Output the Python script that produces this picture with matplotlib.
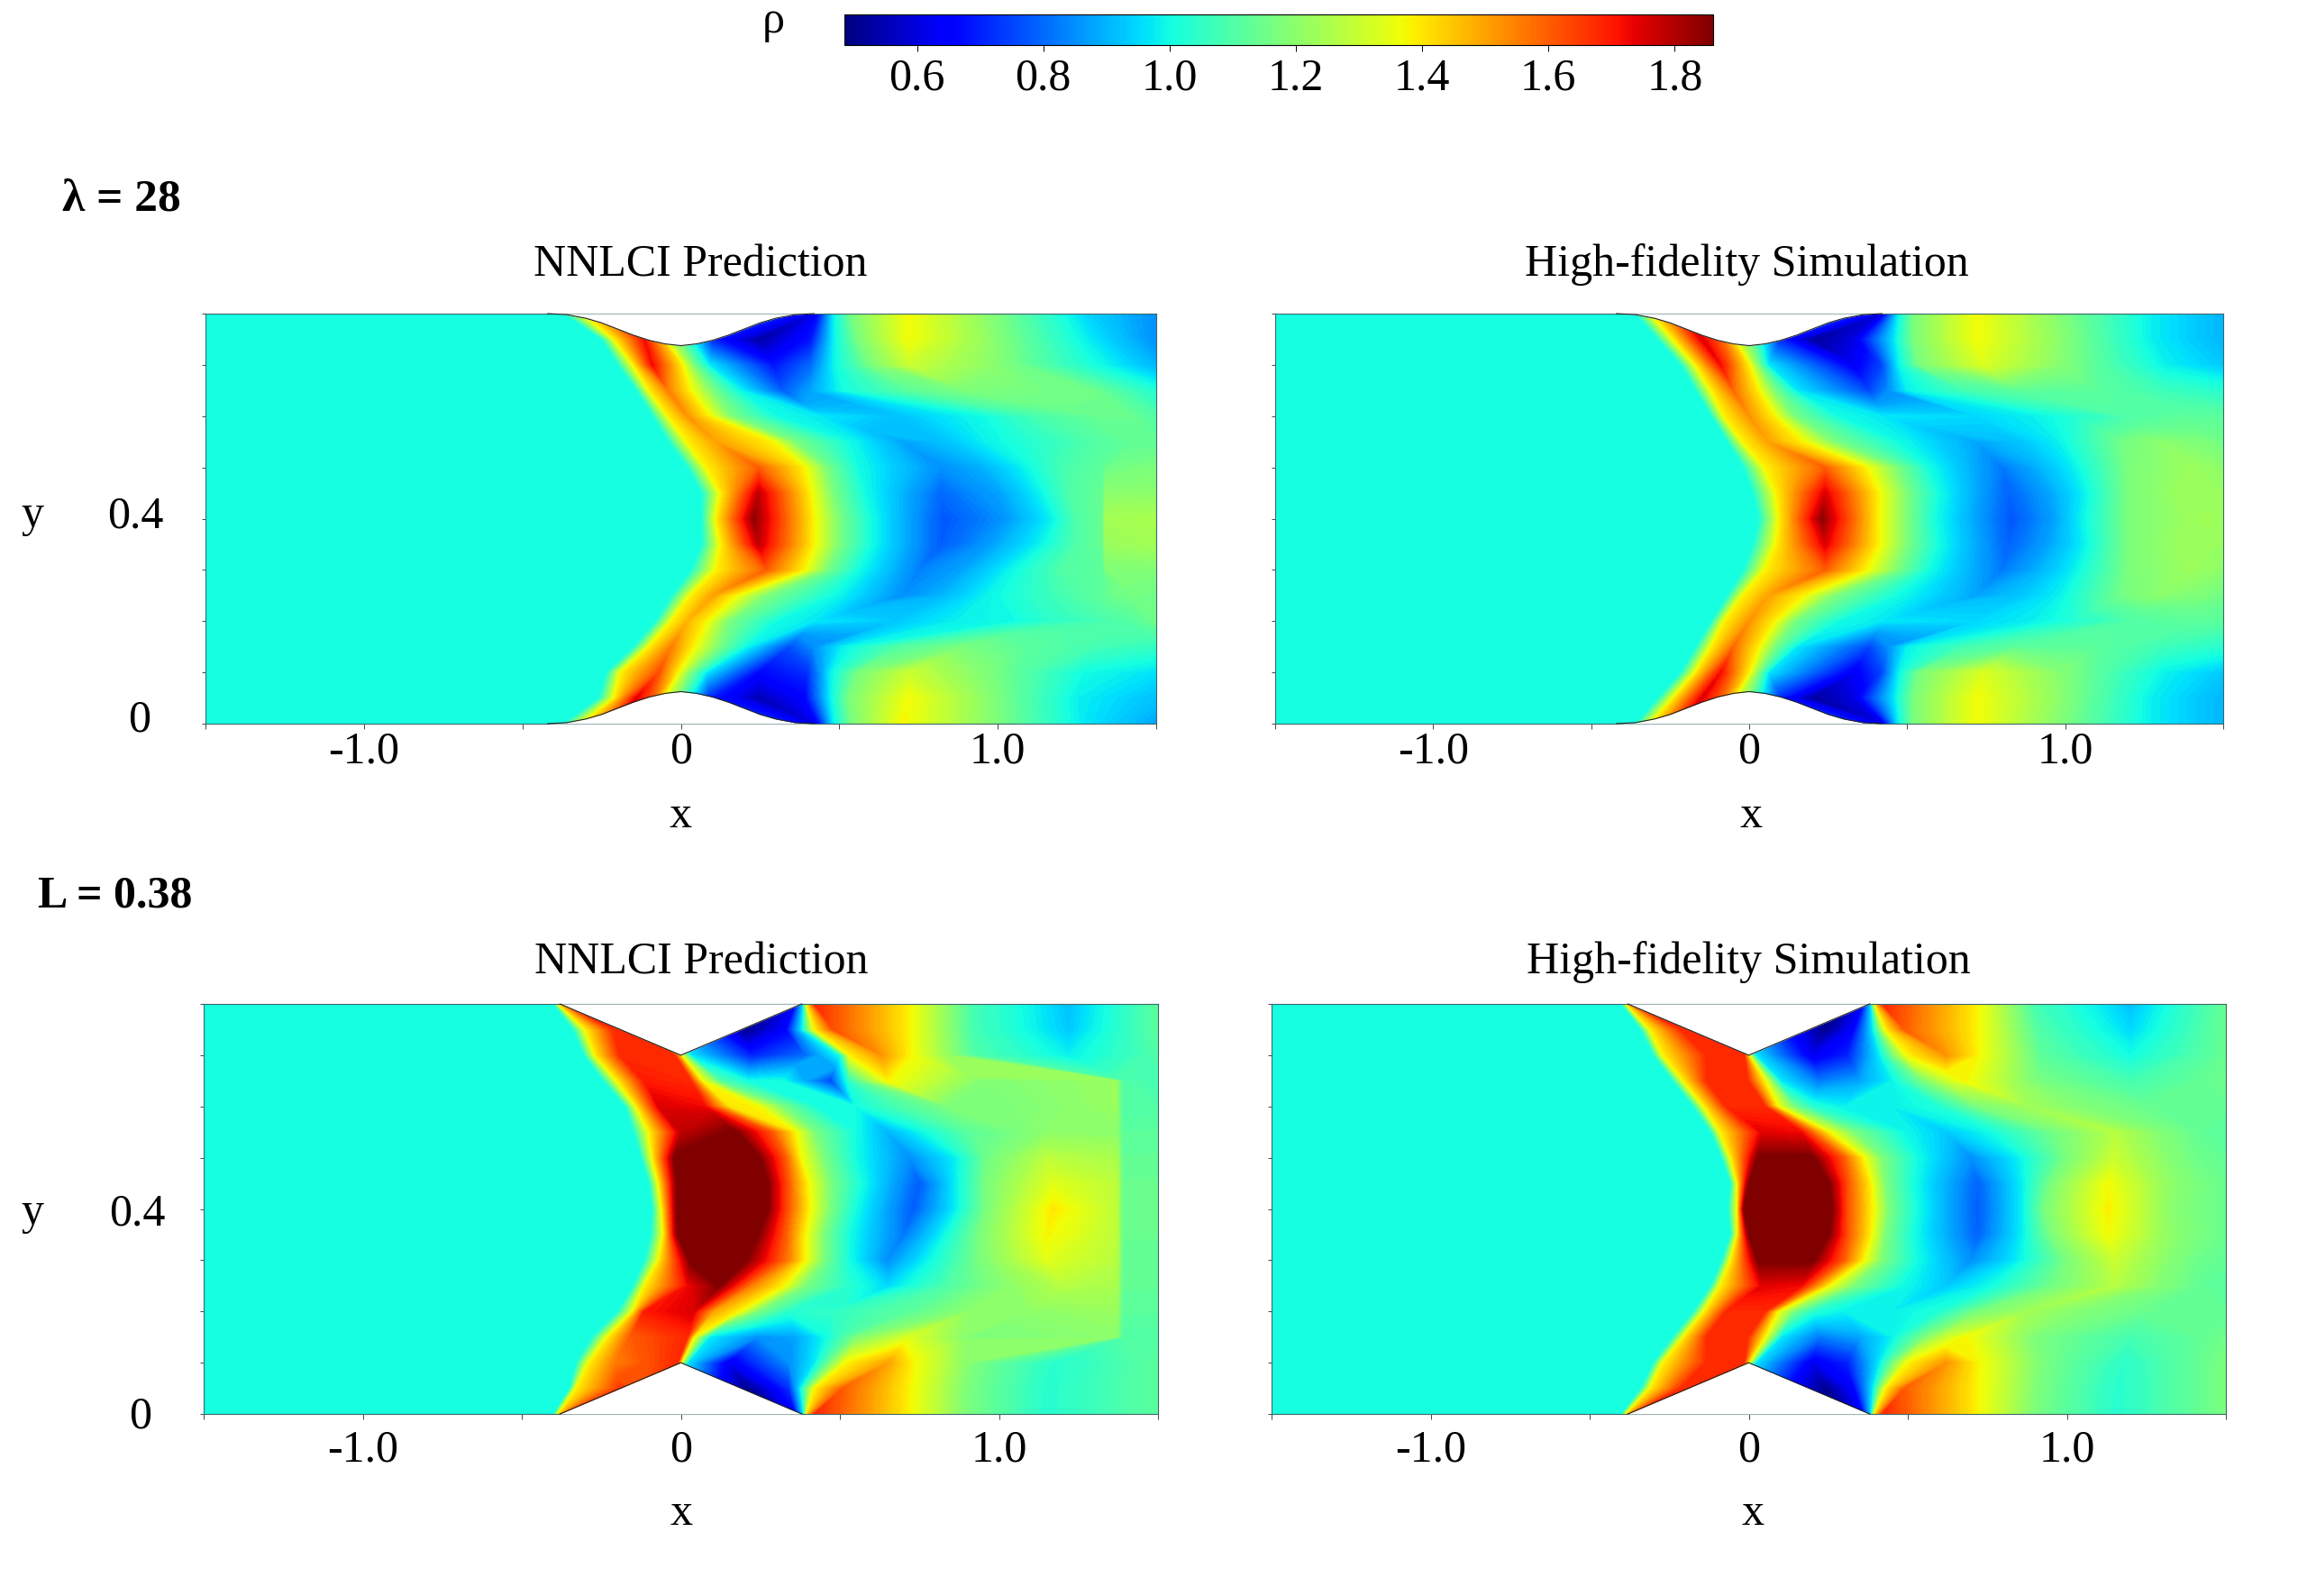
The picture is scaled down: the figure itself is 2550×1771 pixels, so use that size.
import numpy as np
import matplotlib
matplotlib.use('Agg')
import matplotlib.pyplot as plt
from matplotlib.colors import Normalize
from matplotlib.cm import ScalarMappable

plt.rcParams['font.family'] = ['Liberation Serif', 'DejaVu Serif']

W, H = 2550, 1771
RHO_MIN, RHO_MAX = 0.485, 1.861

cbar_ticks = [0.6, 0.8, 1.0, 1.2, 1.4, 1.6, 1.8]

# walls
bump_x = [-0.42, -0.36, -0.3, -0.25, -0.2, -0.15, -0.1, -0.05, 0, 0.05, 0.1, 0.15, 0.2, 0.25, 0.3, 0.36, 0.42]
bump_h = [0, 0.002, 0.009, 0.018, 0.03, 0.042, 0.052, 0.059, 0.0625, 0.059, 0.052, 0.042, 0.03, 0.018, 0.009, 0.002, 0]
wedge_x = [-0.38, 0, 0.38]
wedge_h = [0, 0.1, 0]

# rows of the flow field, x stops and density at the stops (left of the first stop rho is 1.0)
rows_full = [0, 0.05, 0.1, 0.15, 0.2, 0.25, 0.3, 0.35, 0.4, 0.45, 0.5, 0.55, 0.6, 0.65, 0.7, 0.75, 0.8]

# lambda=28, prediction
p1_x = [
    [-.37, -.31, -.22, -.14, -.05, .05, .42, .44, .48, .54, .7, 1.0, 1.27, 1.5],
    [-.26, -.21, -.14, -.09, -.06, .09, .245, .39, .47, .53, .72, .96, 1.25, 1.5],
    [-.235, -.19, -.07, -.01, .03, .08, .245, .4, .47, .56, .72, .96, 1.27, 1.5],
    [-.15, -.1, -.03, .04, .12, .2, .34, .42, .51, .68, .89, 1.08, 1.3, 1.5],
    [-.08, -.03, .02, .08, .15, .3, .42, .68, .87, 1.06, 1.2, 1.32, 1.4, 1.5],
    [-.03, .03, .1, .17, .27, .48, .7, .82, .96, 1.2, 1.32, 1.37, 1.43, 1.5],
    [.03, .11, .27, .39, .46, .56, .75, .89, 1.03, 1.2, 1.31, 1.33, 1.34, 1.5],
    [.065, .125, .245, .42, .5, .6, .82, .96, 1.13, 1.25, 1.31, 1.33, 1.34, 1.5],
    [.065, .11, .23, .42, .5, .6, .83, 1.01, 1.17, 1.25, 1.31, 1.33, 1.34, 1.5],
    [.065, .125, .245, .41, .48, .58, .82, 1.01, 1.13, 1.23, 1.31, 1.33, 1.34, 1.5],
    [.02, .08, .245, .39, .46, .56, .82, .96, 1.08, 1.2, 1.31, 1.33, 1.34, 1.5],
    [-.04, .02, .11, .29, .36, .53, .7, .84, .96, 1.16, 1.3, 1.37, 1.43, 1.5],
    [-.09, -.04, .02, .09, .16, .3, .44, .68, .96, 1.11, 1.25, 1.33, 1.42, 1.5],
    [-.14, -.1, -.04, .03, .1, .18, .32, .41, .51, .72, .9, 1.1, 1.3, 1.5],
    [-.2, -.15, -.09, .005, .04, .09, .29, .41, .48, .6, .72, .98, 1.28, 1.5],
    [-.25, -.21, -.115, -.07, -.04, .1, .245, .41, .48, .56, .72, .98, 1.28, 1.5],
    [-.37, -.31, -.22, -.14, -.05, .05, .42, .44, .48, .54, .72, 1.0, 1.27, 1.5],
]
p1_rho = [
    [1, 1.38, 1.65, 1.5, 1.3, 1.1, .6, .7, .97, 1.17, 1.38, 1.17, .97, .88],
    [1, 1.38, 1.75, 1.6, 1.4, .7, .55, .65, .97, 1.17, 1.37, 1.2, .98, .92],
    [1, 1.38, 1.62, 1.38, 1.17, .97, .66, .72, .97, 1.17, 1.3, 1.18, 1.0, .96],
    [1, 1.38, 1.55, 1.38, 1.17, 1.0, .76, .85, .98, 1.1, 1.17, 1.12, 1.08, 1.05],
    [1, 1.38, 1.47, 1.38, 1.17, 1.0, .97, .93, .98, 1.0, 1.05, 1.08, 1.1, 1.15],
    [1, 1.38, 1.5, 1.38, 1.17, 1.0, .85, .9, .98, 1.08, 1.12, 1.15, 1.16, 1.15],
    [1, 1.38, 1.6, 1.38, 1.17, 1.0, .83, .88, .98, 1.1, 1.12, 1.12, 1.18, 1.18],
    [1, 1.38, 1.78, 1.38, 1.17, 1.0, .78, .86, .98, 1.1, 1.13, 1.13, 1.22, 1.24],
    [1, 1.38, 1.84, 1.38, 1.17, 1.0, .77, .85, .98, 1.1, 1.13, 1.14, 1.24, 1.25],
    [1, 1.38, 1.78, 1.38, 1.17, 1.0, .8, .88, .98, 1.1, 1.13, 1.13, 1.2, 1.2],
    [1, 1.38, 1.6, 1.38, 1.17, 1.0, .85, .9, .98, 1.08, 1.12, 1.12, 1.15, 1.17],
    [1, 1.38, 1.5, 1.38, 1.17, 1.0, .88, .92, .98, 1.05, 1.1, 1.12, 1.13, 1.13],
    [1, 1.38, 1.52, 1.38, 1.17, 1.0, .97, .92, 1.0, 1.08, 1.12, 1.14, 1.14, 1.1],
    [1, 1.38, 1.55, 1.38, 1.17, 1.0, .78, .88, 1.0, 1.12, 1.17, 1.16, 1.15, 1.02],
    [1, 1.38, 1.72, 1.38, 1.17, .97, .68, .8, .98, 1.17, 1.3, 1.2, 1.02, .9],
    [1, 1.38, 1.72, 1.5, 1.3, .7, .53, .68, .97, 1.17, 1.37, 1.2, .98, .85],
    [1, 1.38, 1.6, 1.5, 1.3, 1.1, .6, .7, .97, 1.17, 1.37, 1.17, .95, .85],
]

# lambda=28, simulation: lower half, upper half is the mirror
p2_x = [
    [-.36, -.31, -.22, -.14, -.05, .05, .42, .43, .47, .52, .72, 1.0, 1.27, 1.5],
    [-.29, -.24, -.15, -.09, -.05, .1, .2, .33, .46, .52, .72, .98, 1.27, 1.5],
    [-.217, -.17, -.09, 0, .03, .06, .33, .42, .47, .54, .74, 1.0, 1.32, 1.5],
    [-.17, -.12, -.05, .03, .08, .15, .38, .44, .5, .68, .85, 1.1, 1.3, 1.5],
    [-.12, -.08, 0, .08, .14, .28, .42, .72, .9, 1.02, 1.1, 1.2, 1.35, 1.5],
    [-.07, -.02, .06, .17, .27, .47, .72, .85, .98, 1.17, 1.3, 1.4, 1.45, 1.5],
    [-.02, .05, .24, .37, .47, .57, .8, .92, 1.03, 1.2, 1.38, 1.42, 1.46, 1.5],
    [.01, .085, .24, .41, .5, .6, .82, .95, 1.06, 1.2, 1.35, 1.42, 1.46, 1.5],
    [.03, .095, .23, .41, .5, .59, .83, .96, 1.05, 1.2, 1.38, 1.43, 1.47, 1.5],
]
p2_rho = [
    [1, 1.38, 1.7, 1.5, 1.3, 1.1, .6, .65, .97, 1.17, 1.37, 1.17, .98, .9],
    [1, 1.38, 1.75, 1.6, 1.4, .7, .52, .6, .97, 1.17, 1.37, 1.2, .98, .9],
    [1, 1.38, 1.72, 1.38, 1.17, .97, .63, .75, .97, 1.17, 1.33, 1.18, .98, .93],
    [1, 1.38, 1.58, 1.38, 1.17, .97, .75, .85, .98, 1.08, 1.12, 1.12, 1.07, 1.03],
    [1, 1.38, 1.52, 1.38, 1.17, 1.0, .97, .95, .98, 1.02, 1.05, 1.1, 1.12, 1.12],
    [1, 1.38, 1.5, 1.38, 1.17, 1.0, .88, .92, .98, 1.15, 1.2, 1.18, 1.17, 1.15],
    [1, 1.38, 1.6, 1.38, 1.17, 1.0, .82, .9, .98, 1.17, 1.22, 1.22, 1.21, 1.2],
    [1, 1.38, 1.75, 1.38, 1.17, 1.0, .79, .88, .98, 1.17, 1.22, 1.22, 1.22, 1.22],
    [1, 1.38, 1.84, 1.38, 1.17, 1.0, .77, .87, .98, 1.17, 1.22, 1.23, 1.23, 1.22],
]

# L=0.38, prediction
p3_x = [
    [-.4, -.385, -.36, -.2, -.1, .1, .3, .36, .385, .395, .42, .72, .9, 1.15, 1.5],
    [-.35, -.33, -.19, -.15, -.1, .1, .21, .34, .375, .42, .51, .72, .9, 1.15, 1.5],
    [-.33, -.29, -.21, -.01, 0, .02, .15, .34, .42, .52, .65, .73, .92, 1.18, 1.5],
    [-.28, -.23, -.16, .02, .04, .09, .24, .36, .46, .55, .72, .92, 1.37, 1.39, 1.5],
    [-.2, -.15, -.115, .04, .1, .18, .24, .34, .48, .72, .91, 1.08, 1.37, 1.39, 1.5],
    [-.15, -.115, .02, .12, .22, .32, .39, .53, .65, .84, 1.03, 1.2, 1.37, 1.39, 1.5],
    [-.115, -.07, .03, .2, .34, .39, .45, .53, .65, .79, .94, 1.15, 1.37, 1.39, 1.5],
    [-.095, -.055, -.01, .24, .33, .39, .45, .53, .7, .82, .94, 1.15, 1.37, 1.39, 1.5],
    [-.09, -.06, -.012, .27, .34, .405, .47, .55, .73, .865, .96, 1.17, 1.37, 1.39, 1.5],
    [-.1, -.07, -.012, .27, .34, .4, .47, .57, .75, .865, .96, 1.17, 1.37, 1.39, 1.5],
    [-.125, -.09, -.02, .245, .33, .375, .45, .55, .72, .865, .96, 1.15, 1.37, 1.39, 1.5],
    [-.15, -.1, 0, .17, .29, .36, .42, .55, .65, .77, .91, 1.15, 1.37, 1.39, 1.5],
    [-.175, -.14, -.07, .075, .15, .24, .32, .43, .55, .67, .84, 1.0, 1.37, 1.39, 1.5],
    [-.245, -.2, -.115, .03, .065, .125, .21, .32, .47, .53, .65, .95, 1.37, 1.39, 1.5],
    [-.305, -.27, -.19, -.02, 0, .03, .22, .39, .5, .53, .63, .72, .92, 1.22, 1.5],
    [-.34, -.3, -.21, -.15, -.1, .1, .2, .33, .38, .42, .48, .72, .92, 1.22, 1.5],
    [-.4, -.385, -.36, -.2, -.1, .1, .3, .36, .385, .395, .42, .72, .92, 1.22, 1.5],
]
p3_rho = [
    [1, 1.38, 1.68, 1.6, 1.4, .7, .5, .65, .97, 1.38, 1.68, 1.38, 1.17, 1.03, 1.12],
    [1, 1.38, 1.66, 1.6, 1.4, .7, .5, .72, .97, 1.38, 1.6, 1.38, 1.17, 1.03, 1.12],
    [1, 1.38, 1.55, 1.68, 1.38, .97, .62, .85, .97, 1.38, 1.5, 1.38, 1.17, 1.03, 1.12],
    [1, 1.38, 1.6, 1.68, 1.38, .97, .85, .88, 1.0, 1.17, 1.33, 1.17, 1.2, 1.1, 1.1],
    [1, 1.38, 1.7, 1.75, 1.5, 1.38, 1.17, 1.03, 1.05, 1.12, 1.2, 1.2, 1.22, 1.12, 1.12],
    [1, 1.38, 1.72, 1.86, 1.55, 1.38, 1.17, 1.03, .95, 1.1, 1.2, 1.27, 1.25, 1.13, 1.13],
    [1, 1.38, 1.87, 1.87, 1.55, 1.38, 1.17, 1.0, .85, 1.0, 1.17, 1.34, 1.27, 1.13, 1.13],
    [1, 1.38, 1.87, 1.87, 1.6, 1.38, 1.17, 1.0, .82, .98, 1.17, 1.38, 1.28, 1.14, 1.14],
    [1, 1.38, 1.87, 1.87, 1.6, 1.38, 1.17, 1.0, .78, .98, 1.17, 1.4, 1.28, 1.14, 1.14],
    [1, 1.38, 1.87, 1.87, 1.6, 1.38, 1.17, 1.0, .78, .98, 1.17, 1.34, 1.28, 1.14, 1.14],
    [1, 1.38, 1.87, 1.87, 1.6, 1.38, 1.17, 1.0, .85, .98, 1.15, 1.28, 1.25, 1.13, 1.13],
    [1, 1.38, 1.78, 1.87, 1.6, 1.38, 1.17, 1.0, .9, 1.0, 1.12, 1.2, 1.2, 1.12, 1.12],
    [1, 1.38, 1.75, 1.72, 1.4, 1.38, 1.17, 1.0, 1.0, 1.08, 1.17, 1.17, 1.22, 1.1, 1.1],
    [1, 1.38, 1.7, 1.68, 1.38, 1.1, 1.0, 1.0, .75, 1.05, 1.38, 1.18, 1.22, 1.1, 1.08],
    [1, 1.38, 1.68, 1.68, 1.38, .97, .7, .8, 1.0, 1.38, 1.52, 1.38, 1.1, .98, 1.1],
    [1, 1.38, 1.68, 1.6, 1.4, .7, .5, .65, .97, 1.38, 1.62, 1.38, 1.08, .93, 1.12],
    [1, 1.38, 1.68, 1.6, 1.4, .7, .5, .65, .97, 1.38, 1.68, 1.38, 1.08, .92, 1.12],
]

# L=0.38, simulation: lower rows mirrored for the middle, the top three rows differ on the right
p4_x_low = [
    [-.4, -.385, -.36, -.2, -.1, .1, .3, .36, .385, .395, .42, .72, .9, 1.16, 1.5],
    [-.34, -.31, -.21, -.15, -.1, .1, .24, .33, .39, .43, .49, .72, .91, 1.16, 1.5],
    [-.3, -.27, -.13, -.015, 0, .02, .2, .31, .41, .5, .62, .72, .92, 1.18, 1.5],
    [-.24, -.205, -.13, -.005, .05, .1, .22, .35, .45, .55, .62, .68, .9, 1.2, 1.5],
    [-.175, -.14, -.07, .05, .09, .14, .2, .3, .45, .6, .72, .88, 1.05, 1.25, 1.5],
    [-.12, -.09, .04, .165, .22, .25, .33, .48, .62, .75, .95, 1.15, 1.3, 1.42, 1.5],
    [-.085, -.057, .03, .2, .3, .36, .42, .53, .7, .85, 1.0, 1.15, 1.3, 1.4, 1.5],
    [-.057, -.036, 0, .25, .31, .385, .43, .52, .72, .86, .95, 1.13, 1.3, 1.4, 1.5],
    [-.065, -.036, -.015, .26, .31, .39, .44, .53, .72, .86, .93, 1.13, 1.32, 1.42, 1.5],
]
p4_rho_low = [
    [1, 1.38, 1.68, 1.6, 1.4, .7, .5, .65, .97, 1.38, 1.68, 1.38, 1.17, 1.03, 1.17],
    [1, 1.38, 1.68, 1.6, 1.4, .7, .5, .65, .97, 1.38, 1.6, 1.38, 1.17, 1.03, 1.17],
    [1, 1.38, 1.68, 1.68, 1.38, .97, .62, .7, .97, 1.38, 1.52, 1.38, 1.17, 1.04, 1.17],
    [1, 1.38, 1.68, 1.68, 1.38, .97, .82, .88, .98, 1.17, 1.3, 1.38, 1.17, 1.08, 1.15],
    [1, 1.38, 1.68, 1.68, 1.38, 1.17, 1.03, .98, .98, 1.02, 1.17, 1.23, 1.18, 1.14, 1.13],
    [1, 1.38, 1.74, 1.72, 1.5, 1.38, 1.17, 1.0, .93, .99, 1.15, 1.27, 1.18, 1.13, 1.12],
    [1, 1.38, 1.87, 1.87, 1.6, 1.38, 1.17, 1.0, .85, .98, 1.17, 1.3, 1.2, 1.15, 1.13],
    [1, 1.38, 1.87, 1.87, 1.62, 1.38, 1.17, 1.0, .79, .98, 1.17, 1.37, 1.22, 1.17, 1.14],
    [1, 1.38, 1.87, 1.87, 1.62, 1.38, 1.17, 1.0, .78, .98, 1.17, 1.39, 1.2, 1.16, 1.14],
]
p4_x_top = [
    [-.3, -.27, -.13, -.015, 0, .02, .2, .31, .41, .5, .62, .72, .92, 1.2, 1.5],
    [-.34, -.31, -.21, -.15, -.1, .1, .24, .33, .39, .43, .49, .72, .91, 1.2, 1.5],
    [-.4, -.385, -.36, -.2, -.1, .1, .3, .36, .385, .395, .42, .72, .9, 1.2, 1.5],
]
p4_rho_top = [
    [1, 1.38, 1.68, 1.68, 1.38, .97, .62, .7, .97, 1.38, 1.52, 1.38, 1.12, 1.0, 1.14],
    [1, 1.38, 1.68, 1.6, 1.4, .7, .5, .65, .97, 1.38, 1.6, 1.38, 1.1, .95, 1.14],
    [1, 1.38, 1.68, 1.6, 1.4, .7, .5, .65, .97, 1.38, 1.68, 1.38, 1.08, .92, 1.14],
]


def px_axes(fig, x0, y0, x1, y1):
    return fig.add_axes([x0 / W, 1 - y1 / H, (x1 - x0) / W, (y1 - y0) / H])


def label(fig, x, y, s, size=36, **kw):
    fig.text(x / W, 1 - y / H, s, fontsize=size, ha='center', va='center', **kw)


def draw_panel(fig, box, ys, xs, rhos, wall_x, wall_h, xpad):
    ax = px_axes(fig, *box)
    xs = np.array(xs, dtype=float)
    rhos = np.array(rhos, dtype=float)
    # inlet side is all free stream
    xs = np.column_stack([np.full(len(xs), -1.5), xs])
    rhos = np.column_stack([np.full(len(rhos), 1.0), rhos])
    yy = np.repeat(np.array(ys)[:, None], xs.shape[1], axis=1)
    ax.contourf(xs, yy, rhos, levels=np.linspace(RHO_MIN, RHO_MAX, 140), cmap='jet', extend='both')

    # walls cut out of the channel
    wx = np.array(wall_x)
    wh = np.array(wall_h)
    ax.fill_between(wx, 0, wh, color='white', zorder=3, clip_on=False, lw=0)
    ax.fill_between(wx, 0.8 - wh, 0.8, color='white', zorder=3, clip_on=False, lw=0)
    ax.plot(wx, wh, color='#222222', lw=0.8, zorder=4, clip_on=False)
    ax.plot(wx, 0.8 - wh, color='#222222', lw=0.8, zorder=4, clip_on=False)

    ax.set_xlim(-1.5, 1.5)
    ax.set_ylim(0, 0.8)
    ax.set_xticks([-1.5, -1.0, -0.5, 0, 0.5, 1.0, 1.5])
    ax.set_xticklabels(['', '-1.0', '', '0', '', '1.0', ''], fontsize=36)
    ax.set_yticks(np.arange(9) * 0.1)
    ax.set_yticklabels([])
    ax.tick_params(axis='x', length=4, width=0.7, pad=xpad, color='#444444')
    ax.tick_params(axis='y', length=3, width=0.7, color='#444444')
    for s in ax.spines.values():
        s.set_linewidth(0.8)
        s.set_color('#3a6a6a')
    return ax


fig = plt.figure(figsize=(W / 100, H / 100), dpi=100)

p2_x_all = p2_x + p2_x[-2::-1]
p2_rho_all = p2_rho + p2_rho[-2::-1]
p4_x_all = p4_x_low + p4_x_low[-2:2:-1] + p4_x_top
p4_rho_all = p4_rho_low + p4_rho_low[-2:2:-1] + p4_rho_top

draw_panel(fig, (228, 348, 1283, 803), rows_full, p1_x, p1_rho, bump_x, bump_h, 2)
draw_panel(fig, (1415, 348, 2467, 803), rows_full, p2_x_all, p2_rho_all, bump_x, bump_h, 2)
draw_panel(fig, (226, 1114, 1285, 1569), rows_full, p3_x, p3_rho, wedge_x, wedge_h, 8)
draw_panel(fig, (1411, 1114, 2470, 1569), rows_full, p4_x_all, p4_rho_all, wedge_x, wedge_h, 8)

# colour bar
cax = px_axes(fig, 937, 16, 1901, 50)
sm = ScalarMappable(norm=Normalize(RHO_MIN, RHO_MAX), cmap='jet')
cb = fig.colorbar(sm, cax=cax, orientation='horizontal', ticks=cbar_ticks)
cb.ax.set_xticklabels(['%.1f' % t for t in cbar_ticks], fontsize=36)
cb.ax.tick_params(length=5, width=0.7, pad=5)
cb.outline.set_linewidth(0.8)
label(fig, 858, 24, 'ρ', size=36)

label(fig, 135, 221, 'λ = 28', size=37, fontweight='bold')
label(fig, 128, 995, 'L = 0.38', size=36, fontweight='bold')

label(fig, 777, 294, 'NNLCI Prediction', size=36)
label(fig, 1938, 294, 'High-fidelity Simulation', size=36)
label(fig, 778, 1068, 'NNLCI Prediction', size=36)
label(fig, 1940, 1068, 'High-fidelity Simulation', size=36)

label(fig, 36, 572, 'y')
label(fig, 36, 1346, 'y')
label(fig, 755, 906, 'x')
label(fig, 1943, 906, 'x')
label(fig, 756, 1680, 'x')
label(fig, 1945, 1680, 'x')

label(fig, 150, 573, '0.4')
label(fig, 152, 1347, '0.4')
label(fig, 155, 799, '0')
label(fig, 156, 1572, '0')

fig.savefig('out.png', dpi=100)
